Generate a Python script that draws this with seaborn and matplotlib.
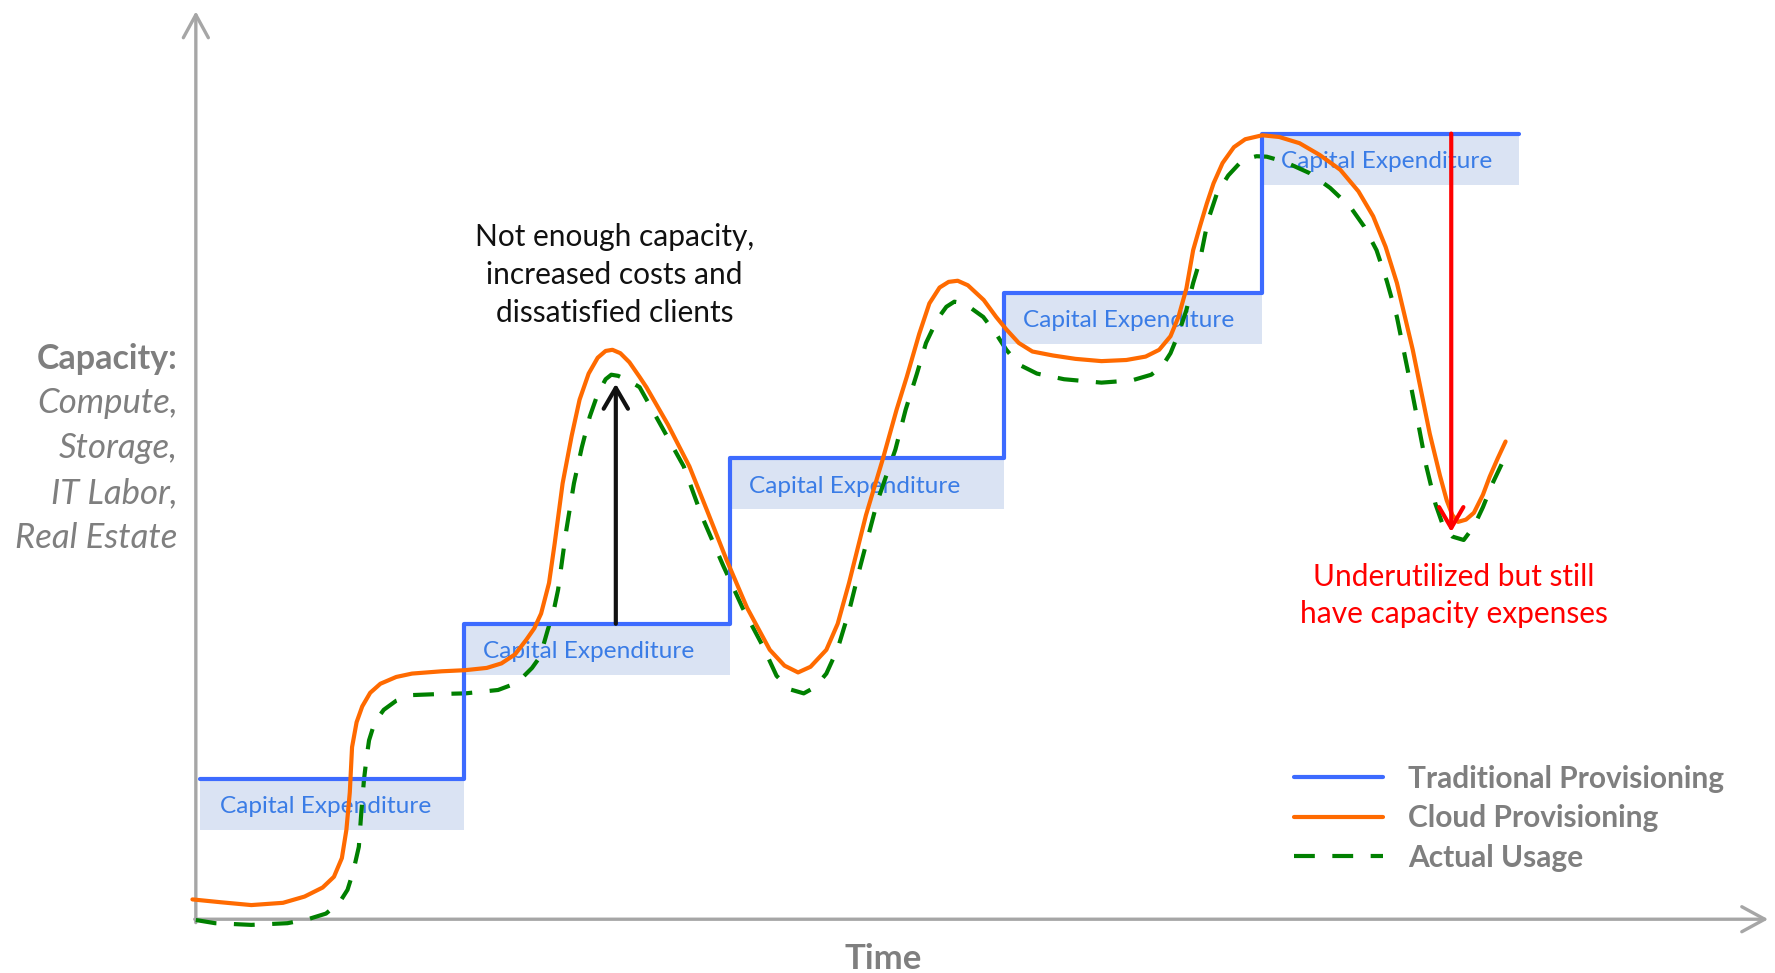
import matplotlib
matplotlib.use("Agg")
import matplotlib.pyplot as plt
import numpy as np
import pandas as pd
import seaborn as sns

sns.set_theme(style="white")
plt.rcParams['font.family'] = ['Lato', 'DejaVu Sans']

# ---------------- data (arbitrary units: time, capacity) ----------------
step_time = [4, 237, 472, 714, 942, 1169]
step_capacity = [124, 261, 407, 553, 694, 694]

cloud_time = [-3, 22, 49, 77, 96, 112, 122, 129, 133, 136, 138, 142, 147, 154, 163, 177, 191, 217,
              238, 257, 270, 282, 292, 299, 305, 312, 317, 324, 332, 339, 347, 355, 362, 368, 375,
              383, 392, 398, 417, 436, 452, 469, 487, 507, 520, 532, 543, 557, 567, 577, 592, 607,
              619, 628, 639, 648, 657, 665, 673, 682, 696, 707, 716, 727, 739, 757, 777, 800, 822,
              839, 851, 861, 868, 875, 881, 887, 893, 899, 907, 917, 927, 942, 957, 975, 993, 1011,
              1027, 1040, 1051, 1061, 1075, 1090, 1099, 1105, 1110, 1115, 1122, 1129, 1137, 1143,
              1150, 1157]
cloud_capacity = [17.5, 15, 12.5, 14.5, 20, 28, 37.5, 54, 79, 112, 152, 174, 188, 200, 208, 214, 217,
                  219, 220, 222, 226, 234, 247, 257, 270, 297, 332, 385, 427, 459, 482, 496, 502, 503,
                  500, 492, 479, 470, 437, 400, 360, 317, 275, 238, 224, 218, 223, 238, 261, 297, 357,
                  407, 450, 479, 517, 544, 558, 563, 564, 560, 547, 532, 521, 509, 501.5, 498, 495,
                  493, 494, 497, 503, 515, 532, 557, 591, 612, 632, 650, 668, 682, 689, 692.5, 691,
                  685.5, 675, 662, 643, 621, 594, 562, 503, 429, 392, 370, 357, 351, 353, 359, 375,
                  391, 407, 422]

usage_time = [0, 17, 49, 81, 99, 115, 127, 134, 139, 144, 146, 148.5, 151, 153, 158, 166, 177, 191,
              217, 238, 267, 279, 289, 297, 302, 307, 311, 316, 320, 327, 334, 341, 348, 355, 362,
              367, 373, 382, 392, 411, 431, 447, 466, 483, 501, 513, 525, 537, 547, 557, 567, 577,
              587, 602, 618, 627, 637, 645, 655, 663, 670, 679, 695.6, 707, 716, 727, 743, 767, 800,
              827, 844, 854, 861, 868, 875, 881, 887, 894, 902, 912, 925, 937, 946, 962, 984, 1002,
              1020, 1032, 1043, 1052, 1061, 1073, 1080, 1087, 1095, 1102, 1110, 1120, 1129, 1137,
              1145, 1154]
usage_capacity = [-0.7, -3.5, -5, -3.5, 0, 5, 15, 26, 42, 64, 92, 123, 144, 158, 174, 185, 193, 198,
                  199, 199.5, 202.5, 207, 214, 222, 229, 242, 256, 272, 291, 342, 385, 417, 444, 464,
                  477, 481, 480, 476, 470, 436, 400, 356, 312, 275, 241, 215, 203, 199.5, 205, 217,
                  239, 272, 312, 369, 415, 450, 482, 509, 530, 541, 545.5, 544, 532, 517, 503, 490,
                  482, 477, 474, 476, 481, 489, 500, 517, 538, 562, 582, 617, 641, 657, 671, 674,
                  673.6, 669, 659, 646, 629, 612, 591, 564, 532, 473, 437, 400, 367, 347, 338, 335,
                  347, 364, 384, 403]

box_label = "Capital Expenditure"
box_height = 45
series_labels = ["Traditional Provisioning", "Cloud Provisioning", "Actual Usage"]
shortfall_text = "Not enough capacity,\nincreased costs and\ndissatisfied clients"
shortfall_time, shortfall_from, shortfall_to = 371, 261, 473
waste_text = "Underutilized but still\nhave capacity expenses"
waste_time, waste_from, waste_to = 1109, 694, 342
y_title = "Capacity:"
y_items = ["Compute,", "Storage,", "IT Labor,", "Real Estate"]
x_title = "Time"

# ---------------- styling ----------------
BLUE = "#3D6BFF"
ORANGE = "#FF6A00"
GREEN = "#008000"
AXIS_GRAY = "#A6A6A6"
TEXT_GRAY = "#7F7F7F"
BOX_FILL = "#DAE3F3"
BOX_TEXT = "#3A7CE6"

fig = plt.figure(figsize=(17.75, 9.73), dpi=100)
ax = fig.add_axes([0, 0, 1, 1])
ax.set_xlim(-173, 1395)
ax.set_ylim(-47.5, 812)
ax.axis("off")

# Capital expenditure boxes under each step
lefts = np.array(step_time[:-1], dtype=float)
widths = np.diff(step_time)
levels = np.array(step_capacity[:-1], dtype=float)
ax.bar(lefts, [box_height] * len(lefts), width=widths, bottom=levels - box_height,
       align="edge", color=BOX_FILL, edgecolor="none", zorder=1)
for l, lev in zip(lefts, levels):
    ax.text(l + 17, lev - box_height / 2 - 2, box_label, color=BOX_TEXT, fontsize=17.6,
            ha="left", va="center", zorder=2)

# Axes arrows
arrow_kw = dict(arrowstyle="->,head_length=0.55,head_width=0.3", color=AXIS_GRAY, lw=2.4,
                mutation_scale=30, shrinkA=0, shrinkB=0)
ax.annotate("", xy=(0, 802), xytext=(0, -3), arrowprops=arrow_kw, zorder=3)
ax.annotate("", xy=(1389, 0), xytext=(-1, 0), arrowprops=arrow_kw, zorder=3)

# Series
df_steps = pd.DataFrame({"time": step_time, "capacity": step_capacity})
df_cloud = pd.DataFrame({"time": cloud_time, "capacity": cloud_capacity})
df_usage = pd.DataFrame({"time": usage_time, "capacity": usage_capacity})

sns.lineplot(data=df_steps, x="time", y="capacity", ax=ax, sort=False, estimator=None,
             color=BLUE, linewidth=3.0, drawstyle="steps-post", label=series_labels[0], zorder=5)
sns.lineplot(data=df_usage, x="time", y="capacity", ax=ax, sort=False, estimator=None,
             color=GREEN, linewidth=3.0, label=series_labels[2], zorder=4)
ax.lines[-1].set_dashes((5, 4.2))
sns.lineplot(data=df_cloud, x="time", y="capacity", ax=ax, sort=False, estimator=None,
             color=ORANGE, linewidth=3.0, label=series_labels[1], zorder=6)

# Annotation arrows
ax.annotate("", xy=(shortfall_time, shortfall_to), xytext=(shortfall_time, shortfall_from),
            arrowprops=dict(arrowstyle="->,head_length=0.6,head_width=0.35", color="#111111",
                            lw=3.0, mutation_scale=25, shrinkA=0, shrinkB=0), zorder=7)
ax.annotate("", xy=(waste_time, waste_to), xytext=(waste_time, waste_from),
            arrowprops=dict(arrowstyle="->,head_length=0.6,head_width=0.35", color="#FF0000",
                            lw=3.0, mutation_scale=25, shrinkA=0, shrinkB=0), zorder=7)

ax.text(370, 569, shortfall_text, ha="center", va="center", fontsize=21.5, color="#111111",
        linespacing=1.42)
ax.text(1111, 286, waste_text, ha="center", va="center", fontsize=21.5, color="#FF0000",
        linespacing=1.42)

# Y title block
ax.text(-16, 495, y_title, ha="right", va="center", fontsize=24.5, fontweight="bold", color=TEXT_GRAY)
for i, item in enumerate(y_items):
    ax.text(-16, 456 - 39.7 * i, item, ha="right", va="center", fontsize=25, fontstyle="italic",
            color=TEXT_GRAY)

# X title
ax.text(607, -35, x_title, ha="center", va="center", fontsize=25, fontweight="bold", color=TEXT_GRAY)

# Legend
handles, labels = ax.get_legend_handles_labels()
order = [labels.index(s) for s in series_labels]
leg = ax.legend([handles[i] for i in order], [labels[i] for i in order],
                loc="center left", bbox_to_anchor=(0.729, 0.159), frameon=False,
                fontsize=21.5, handlelength=2.98, handletextpad=0.83, labelspacing=0.38,
                borderaxespad=0, borderpad=0)
for t in leg.get_texts():
    t.set_color(TEXT_GRAY)
    t.set_fontweight("bold")

fig.savefig("out.png", dpi=100)
